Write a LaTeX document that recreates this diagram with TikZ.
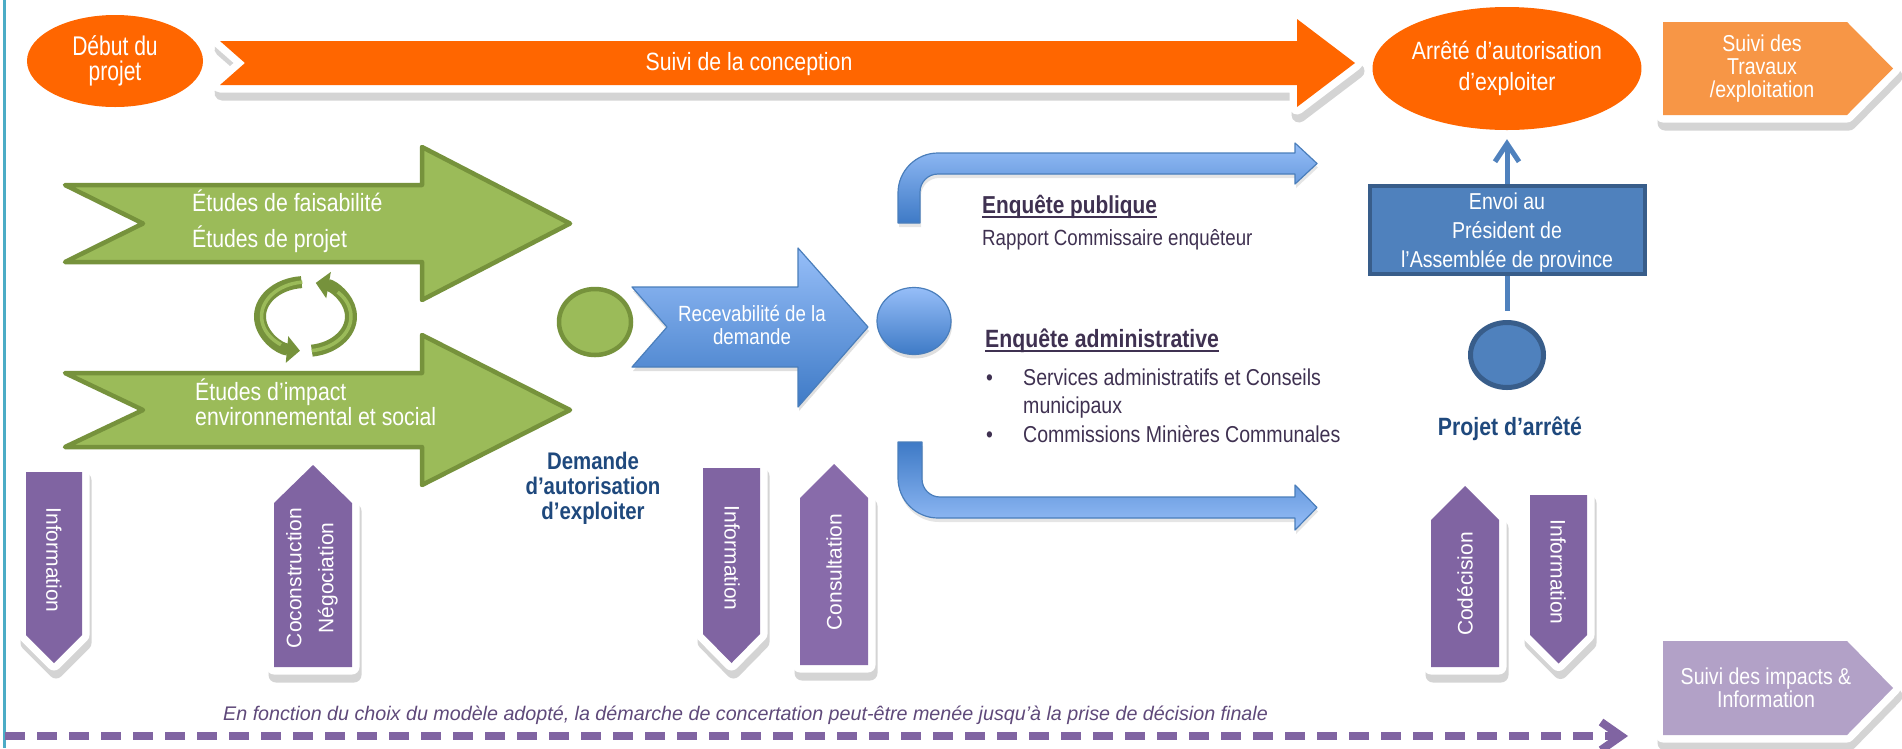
\documentclass[tikz,border=0pt]{standalone}
\usepackage{fontspec}
\setmainfont{Liberation Sans}[FakeStretch=0.85]
\newfontfamily\plainfont{Liberation Sans}
\newfontfamily\narrowfont{Liberation Sans}[FakeStretch=0.78]
\usetikzlibrary{shapes.geometric,arrows.meta,shadows}
\definecolor{orng}{RGB}{255,102,0}
\definecolor{lorng}{RGB}{247,150,70}
\definecolor{grfill}{RGB}{155,187,89}
\definecolor{grdark}{RGB}{118,146,60}
\definecolor{bluL}{RGB}{150,190,248}
\definecolor{bluD}{RGB}{62,122,198}
\definecolor{bluE}{RGB}{74,126,187}
\definecolor{boxblue}{RGB}{79,129,189}
\definecolor{boxedge}{RGB}{56,93,138}
\definecolor{purp}{RGB}{128,100,162}
\definecolor{purpB}{RGB}{136,107,170}
\definecolor{lilac}{RGB}{178,161,199}
\definecolor{dkblue}{RGB}{31,73,125}
\definecolor{dkpurp}{RGB}{63,49,81}
\definecolor{itpurp}{RGB}{95,73,122}
\definecolor{cyanline}{RGB}{75,172,198}
\definecolor{shgray}{RGB}{212,212,212}
\newcommand{\fshape}[2]{%
  \fill[shgray, draw=shgray, line width=15pt, line join=round, shift={(2,8)}] #2;
  \fill[white, draw=white, line width=15pt, line join=round] #2;
  \fill[#1] #2;}
\begin{document}
\begin{tikzpicture}[x=1pt,y=-1pt,
  wtxt/.style={text=white, inner sep=0pt},
  etxt/.style={text=dkpurp, inner sep=0pt, anchor=base west},
  vtxt/.style={text=white, inner sep=0pt, font=\plainfont\fontsize{21}{21}\selectfont},
  bshade/.style={top color=bluL, bottom color=bluD, draw=bluE, line width=1.2pt, line join=round},
  gshape/.style={fill=grfill, draw=grdark, line width=4.5pt, line join=round},
  cyc/.style={grdark, line width=12pt, -{Triangle[length=13pt,width=26pt]}},
  cycin/.style={grfill, line width=3.5pt}]
\useasboundingbox (0,0) rectangle (1902,748);
\fill[white] (0,0) rectangle (1902,748);
\draw[cyanline, line width=3pt] (4.5,0) -- (4.5,748);

% top orange arrow
\fshape{orng}{(220,41) -- (1297,41) -- (1297,19) -- (1355,63) -- (1297,107) -- (1297,85) -- (220,85) -- (245,63) -- cycle}
\node[wtxt, font=\fontsize{25}{25}\selectfont] (suivitxt) at (749,64) {Suivi de la conception};

\node[ellipse, fill=orng, minimum width=176pt, minimum height=92pt, inner sep=0pt, text=white, align=center, font=\narrowfont\fontsize{27}{25}\selectfont] (debut) at (115,61) {Début du\\projet};
\node[ellipse, fill=orng, minimum width=246pt, minimum height=123pt, inner sep=0pt, text=white, align=center, font=\fontsize{25}{31}\selectfont] (arrete) at (1507,68.5) {Arrêté d’autorisation\\d’exploiter};

\fshape{lorng}{(1663,22) -- (1847,22) -- (1893,68.5) -- (1847,115) -- (1663,115) -- cycle}
\node[wtxt, align=center, font=\fontsize{23}{23}\selectfont] (travaux) at (1762,69) {Suivi des\\Travaux\\/exploitation};

% green arrows
\path[gshape] (65,185) -- (422,185) -- (422,147) -- (570,223.5) -- (422,300) -- (422,262) -- (65,262) -- (143,223.5) -- cycle;
\path[gshape] (65,373) -- (422,373) -- (422,335) -- (570,410) -- (422,485) -- (422,447) -- (65,447) -- (143,410) -- cycle;
\node[wtxt, anchor=base west, font=\fontsize{25}{25}\selectfont] (et1) at (192,211) {Études de faisabilité};
\node[wtxt, anchor=base west, font=\fontsize{25}{25}\selectfont] (et2) at (192,247) {Études de projet};
\node[wtxt, anchor=west, align=left, font=\fontsize{25}{25}\selectfont] (et3) at (195,402) {Études d’impact\\environnemental et social};

% cycle icon
\draw[cyc] (301.53,282.13) arc[start angle=265, end angle=97, x radius=45.5, y radius=34.5];
\draw[cyc] (311.83,350.66) arc[start angle=82, end angle=-77, x radius=45.5, y radius=34.5];
\draw[cycin] (302.3,282.1) arc[start angle=264, end angle=125, x radius=45.5, y radius=34.5];
\draw[cycin] (311.83,350.66) arc[start angle=82, end angle=-45, x radius=45.5, y radius=34.5];

% demande
\node[ellipse, fill=grfill, draw=grdark, line width=4.5pt, minimum width=72pt, minimum height=66pt, inner sep=0pt] (gcirc) at (595,322) {};
\node[font=\bfseries\fontsize{24}{25}\selectfont, text=dkblue, align=center, inner sep=0pt] (demande) at (593,488) {Demande\\d’autorisation\\d’exploiter};

\path[bshade, drop shadow={opacity=0.25, shadow xshift=1pt, shadow yshift=-4pt}] (632,287) -- (798,287) -- (798,248) -- (868,327) -- (798,407) -- (798,367) -- (632,367) -- (667,327) -- cycle;
\node[wtxt, align=center, font=\fontsize{22}{23}\selectfont] (recev) at (752,325) {Recevabilité de la\\demande};

\node[ellipse, bshade, minimum width=74pt, minimum height=67pt, inner sep=0pt, drop shadow={opacity=0.25, shadow xshift=1pt, shadow yshift=-4pt}] (bcirc) at (914,321) {};

% bent arrows
\path[bshade, drop shadow={opacity=0.2, shadow xshift=1pt, shadow yshift=-4pt}] (898,223) -- (898,193) .. controls (898,170.9) and (915.9,153) .. (938,153) -- (1295,153) -- (1295,143) -- (1317,163.5) -- (1295,184) -- (1295,174) -- (938,174) .. controls (928.06,174) and (920,182.06) .. (920,192) -- (920,223) -- cycle;
\path[bshade, top color=bluD, bottom color=bluL, drop shadow={opacity=0.2, shadow xshift=1pt, shadow yshift=-4pt}] (898,442) -- (898,478) .. controls (898,500.1) and (915.9,518) .. (938,518) -- (1295,518) -- (1295,530) -- (1317,507.5) -- (1295,485) -- (1295,497) -- (940,497) .. controls (930.06,497) and (922,488.94) .. (922,479) -- (922,442) -- cycle;

% enquetes
\node[etxt, font=\bfseries\fontsize{24.5}{25}\selectfont] (epub) at (982,213) {Enquête publique};
\draw[dkpurp, line width=1.3pt] ([yshift=-4pt]epub.base west) -- ([yshift=-4pt]epub.base east);
\node[etxt, font=\fontsize{22}{22}\selectfont] (rapp) at (982,245) {Rapport Commissaire enquêteur};
\node[etxt, font=\bfseries\fontsize{25}{25}\selectfont] (eadm) at (985,347) {Enquête administrative};
\draw[dkpurp, line width=1.3pt] ([yshift=-4pt]eadm.base west) -- ([yshift=-4pt]eadm.base east);
\node[etxt, font=\fontsize{23}{23}\selectfont] (b1) at (986,385) {•};
\node[etxt, font=\fontsize{23}{23}\selectfont] (s1) at (1023,385) {Services administratifs et Conseils};
\node[etxt, font=\fontsize{23}{23}\selectfont] (s1b) at (1023,413) {municipaux};
\node[etxt, font=\fontsize{23}{23}\selectfont] (b2) at (986,442) {•};
\node[etxt, font=\fontsize{23}{23}\selectfont] (s2) at (1023,442) {Commissions Minières Communales};

% right column
\node[rectangle, fill=boxblue, draw=boxedge, line width=4pt, minimum width=275pt, minimum height=88pt, inner sep=0pt] (envoi) at (1507,230) {};
\node[wtxt, align=center, font=\fontsize{23}{29}\selectfont] (envoitxt) at (1507,233) {Envoi au\\Président de\\l’Assemblée de province};
\node[ellipse, fill=boxblue, draw=boxedge, line width=5pt, minimum width=73pt, minimum height=65pt, inner sep=0pt] (projet) at (1507,355) {};
\node[font=\bfseries\fontsize{25}{25}\selectfont, text=dkblue, anchor=base, inner sep=0pt] (projettxt) at (1510,435) {Projet d’arrêté};
\draw[boxblue, line width=5pt, shorten <=9.5pt] (projet.north) -- (envoi.south);
\draw[boxblue, line width=5pt, -{Straight Barb[length=18pt,width=24pt]}, shorten >=9pt] (envoi.north) -- (arrete.south);

% purple arrows
\fshape{purp}{(26,472) -- (82,472) -- (82,635) -- (54,663) -- (26,635) -- cycle}
\fshape{purp}{(274,503) -- (313,465) -- (352,503) -- (352,667) -- (274,667) -- cycle}
\fshape{purp}{(703,468) -- (760,468) -- (760,634) -- (731.5,663) -- (703,634) -- cycle}
\fshape{purpB}{(800,498) -- (834,464) -- (868,498) -- (868,665) -- (800,665) -- cycle}
\fshape{purp}{(1431,520) -- (1465,486) -- (1499,520) -- (1499,667) -- (1431,667) -- cycle}
\fshape{purp}{(1530,495) -- (1587,495) -- (1587,635) -- (1558.5,663.5) -- (1530,635) -- cycle}
\node[vtxt, rotate=-90] (inf1) at (54,560) {Information};
\node[vtxt, rotate=90, align=center, font=\plainfont\fontsize{21}{32}\selectfont] (cocon) at (312,578) {Coconstruction\\Négociation};
\node[vtxt, rotate=-90] (inf2) at (732,558) {Information};
\node[vtxt, rotate=90] (consult) at (834,572) {Consultation};
\node[vtxt, rotate=90] (codec) at (1465,584) {Codécision};
\node[vtxt, rotate=-90] (inf3) at (1558,572) {Information};

% bottom
\fshape{lilac}{(1663,641) -- (1847,641) -- (1893,688) -- (1847,735) -- (1663,735) -- cycle}
\node[wtxt, align=center, font=\fontsize{23}{23}\selectfont] (impacts) at (1766,688) {Suivi des impacts \&\\Information};
\node[font=\plainfont\itshape\fontsize{19.7}{20}\selectfont, text=itpurp, anchor=base west, inner sep=0pt] (note) at (223,720) {En fonction du choix du modèle adopté, la démarche de concertation peut-être menée jusqu’à la prise de décision finale};
\coordinate (dstart) at (5,736);
\coordinate (dend) at (1628,736);
\draw[purp, line width=8pt, dash pattern=on 20pt off 12pt, -{Straight Barb[length=20pt,width=28pt]}] (dstart) -- (dend);
\end{tikzpicture}
\end{document}
